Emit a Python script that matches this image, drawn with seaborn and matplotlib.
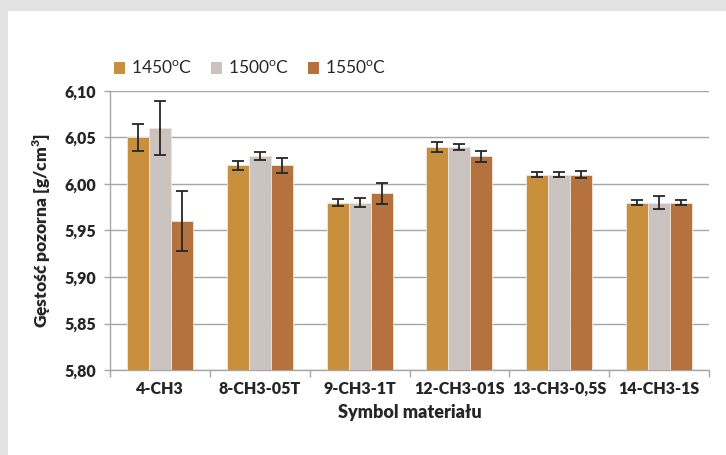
import matplotlib
matplotlib.use("Agg")
import matplotlib.pyplot as plt
import matplotlib.patches as mpatches
import seaborn as sns
import pandas as pd
import numpy as np

categories = ["4-CH3", "8-CH3-05T", "9-CH3-1T", "12-CH3-01S", "13-CH3-0,5S", "14-CH3-1S"]
series = ["1450$^\\mathregular{o}$C", "1500$^\\mathregular{o}$C", "1550$^\\mathregular{o}$C"]
vals_1450 = [6.05, 6.02, 5.98, 6.04, 6.01, 5.98]
vals_1500 = [6.06, 6.03, 5.98, 6.04, 6.01, 5.98]
vals_1550 = [5.96, 6.02, 5.99, 6.03, 6.01, 5.98]
err_1450 = [0.014, 0.005, 0.0035, 0.0055, 0.003, 0.0025]
err_1500 = [0.029, 0.004, 0.0045, 0.0035, 0.003, 0.007]
err_1550 = [0.032, 0.008, 0.0115, 0.006, 0.004, 0.003]
colors = ["#C8903C", "#CBC3C0", "#B5713E"]
yticks = [5.80, 5.85, 5.90, 5.95, 6.00, 6.05, 6.10]

sns.set_theme(style="white")
plt.rcParams['font.family'] = ['Lato', 'DejaVu Sans']

rows = []
for s, v, e in zip(series, [vals_1450, vals_1500, vals_1550], [err_1450, err_1500, err_1550]):
    for c, vv, ee in zip(categories, v, e):
        rows.append({"cat": c, "series": s, "val": vv, "err": ee})
df = pd.DataFrame(rows)

fig = plt.figure(figsize=(7.26, 4.55), dpi=100)
fig.patch.set_facecolor("#E3E3E3")
bg = fig.add_axes([8/726, 0, 1 - 8/726, 1 - 11/455], zorder=-10)
bg.set_facecolor("white")
bg.set_xticks([]); bg.set_yticks([])
for s in bg.spines.values():
    s.set_visible(False)

ax = fig.add_axes([110/726, 1 - 370/455, 599/726, 279/455])
ax.set_facecolor("white")

sns.barplot(data=df, x="cat", y="val", hue="series", palette=colors, order=categories,
            hue_order=series, width=0.66, gap=0, errorbar=None, ax=ax, saturation=1,
            edgecolor="#F2E6DA", linewidth=0.6, zorder=3)

# error bars placed at bar centers
for cont, s in zip(ax.containers, series):
    sub = df[df.series == s].set_index("cat").loc[categories]
    xs = [p.get_x() + p.get_width() / 2 for p in cont.patches]
    ax.errorbar(xs, sub["val"].values, yerr=sub["err"].values, fmt="none",
                ecolor="#262626", elinewidth=1.3, capsize=4, capthick=1.3, zorder=4)

ax.set_ylim(5.80, 6.10)
ax.set_xlim(-0.5, 5.5)
ax.set_yticks(yticks)
ax.set_yticklabels([f"{t:.2f}".replace(".", ",") for t in yticks], fontsize=11.5, fontweight="heavy", color="#262626")
ax.yaxis.grid(True, color="#A6A6A6", linewidth=1.0, zorder=0)
ax.set_axisbelow(True)
ax.tick_params(axis="y", length=4, color="#A6A6A6", width=1, direction="out", pad=6, left=True)
ax.set_xticks(range(len(categories)))
ax.set_xticklabels(categories, fontsize=11.5, fontweight="heavy", color="#262626")
ax.tick_params(axis="x", length=0, pad=8)
ax.set_xticks(np.arange(-0.5, 6.0, 1.0), minor=True)
ax.tick_params(axis="x", which="minor", length=5, color="#A6A6A6", width=1, direction="out", bottom=True)

for side in ["top", "right"]:
    ax.spines[side].set_visible(False)
ax.spines["left"].set_color("#A6A6A6")
ax.spines["bottom"].set_color("#A6A6A6")
ax.spines["left"].set_linewidth(1)
ax.spines["bottom"].set_linewidth(1)

ax.set_xlabel("Symbol materiału", fontsize=13, fontweight="heavy", color="#262626", labelpad=5)
ax.set_ylabel("Gęstość pozorna [g/cm$^\\mathregular{3}$]", fontsize=12.5, fontweight="heavy", color="#262626", labelpad=8)

handles = [mpatches.Patch(facecolor=c, edgecolor="none") for c in colors]
leg = ax.legend(handles, series, loc="lower left", bbox_to_anchor=(-0.005, 1.025), ncol=3, frameon=False,
                fontsize=12.5, handlelength=0.65, handleheight=0.65, handletextpad=0.35, columnspacing=1.05,
                borderaxespad=0)
for t in leg.get_texts():
    t.set_color("#262626")

fig.savefig("out.png", dpi=100, facecolor=fig.get_facecolor())
